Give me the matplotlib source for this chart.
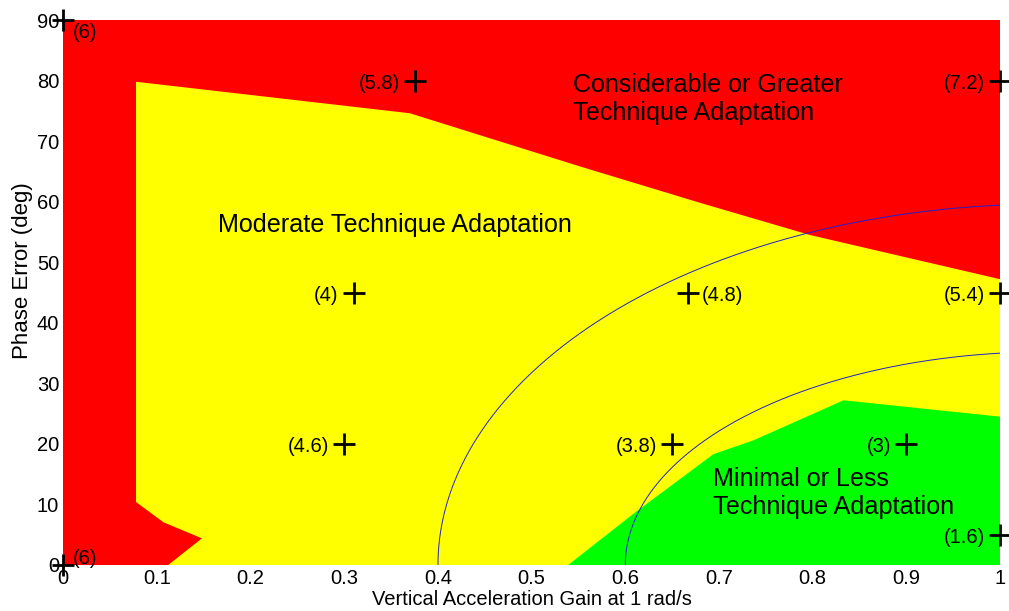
import numpy as np
import matplotlib
matplotlib.use("Agg")
import matplotlib.pyplot as plt

plt.rcParams['font.family'] = ['Liberation Sans', 'DejaVu Sans']

# ---- data ----
yellow_x = [0.0776, 0.0776, 0.370, 0.552, 0.680, 0.797, 1.0, 1.0, 0.112, 0.148, 0.107]
yellow_y = [10.4, 79.8, 74.6, 65.8, 59.8, 54.5, 47.2, 0.0, 0.0, 4.4, 7.05]

green_x = [0.539, 0.609, 0.694, 0.737, 0.833, 1.0, 1.0]
green_y = [0.0, 8.5, 18.3, 20.6, 27.2, 24.5, 0.0]

# ellipse arcs: (center x, semi-axis x, semi-axis y)
outer_ellipse = (1.05, 0.65, 59.6)
inner_ellipse = (1.05, 0.45, 35.2)

pt_x = [0.0, 0.0, 0.375, 1.0, 0.31, 0.667, 1.0, 0.30, 0.65, 0.90, 1.0]
pt_y = [90, 0, 80, 80, 45, 45, 45, 20, 20, 20, 5]
pt_labels = ["(6)", "(6)", "(5.8)", "(7.2)", "(4)", "(4.8)", "(5.4)",
             "(4.6)", "(3.8)", "(3)", "(1.6)"]
# label placement (pixel offsets, alignment)
pt_offsets = [(9, -12, 'left'), (9, 7, 'left'), (-15, -3, 'right'), (-15, -3, 'right'),
              (-15, -3, 'right'), (14, -3, 'left'), (-15, -3, 'right'),
              (-15, -3, 'right'), (-15, -3, 'right'), (-15, -3, 'right'),
              (-15, -3, 'right')]

x_ticks = [0, 0.1, 0.2, 0.3, 0.4, 0.5, 0.6, 0.7, 0.8, 0.9, 1.0]
x_ticklabels = ["0", "0.1", "0.2", "0.3", "0.4", "0.5", "0.6", "0.7", "0.8", "0.9", "1"]
y_ticks = [0, 10, 20, 30, 40, 50, 60, 70, 80, 90]

# ---- figure ----
fig = plt.figure(figsize=(10.09, 6.11), dpi=100)
ax = fig.add_axes([63.3 / 1009, 46 / 611, 936.7 / 1009, 545 / 611])
ax.set_xlim(0, 1)
ax.set_ylim(0, 90)

ax.set_facecolor('#ff0000')
ax.fill(yellow_x, yellow_y, color='#ffff00', lw=0, zorder=1)
ax.fill(green_x, green_y, color='#00ff00', lw=0, zorder=2)

for (c, a, b) in (outer_ellipse, inner_ellipse):
    tmax = np.arccos((c - 1.0) / a)
    t = np.linspace(0, tmax, 400)
    ax.plot(c - a * np.cos(t), b * np.sin(t), color='#2020d0', lw=0.7, zorder=3)

fs = 14.5
ax.plot(pt_x, pt_y, ls='none', marker='+', color='black', ms=16, mew=2,
        clip_on=False, zorder=5)
for x, y, lab, (dx, dy, ha) in zip(pt_x, pt_y, pt_labels, pt_offsets):
    ax.annotate(lab, (x, y), xytext=(dx, dy), textcoords='offset pixels',
                ha=ha, va='center', fontsize=fs, color='black', zorder=6,
                annotation_clip=False)

rfs = 18.1
ax.text(0.165, 55.0, "Moderate Technique Adaptation", fontsize=rfs, va='baseline', ha='left', zorder=6)
ax.text(0.544, 78.1, "Considerable or Greater", fontsize=rfs, va='baseline', ha='left', zorder=6)
ax.text(0.544, 73.5, "Technique Adaptation", fontsize=rfs, va='baseline', ha='left', zorder=6)
ax.text(0.694, 13.05, "Minimal or Less", fontsize=rfs, va='baseline', ha='left', zorder=6)
ax.text(0.694, 8.5, "Technique Adaptation", fontsize=rfs, va='baseline', ha='left', zorder=6)

ax.set_xticks(x_ticks)
ax.set_xticklabels(x_ticklabels)
ax.set_yticks(y_ticks)
ax.tick_params(length=0, labelsize=fs, pad=3)
for s in ax.spines.values():
    s.set_visible(False)

ax.set_xlabel("Vertical Acceleration Gain at 1 rad/s", fontsize=fs, labelpad=1)
ax.set_ylabel("Phase Error (deg)", fontsize=16)
ax.yaxis.set_label_coords(-0.032, 0.54)

fig.savefig("out.png", dpi=100)
